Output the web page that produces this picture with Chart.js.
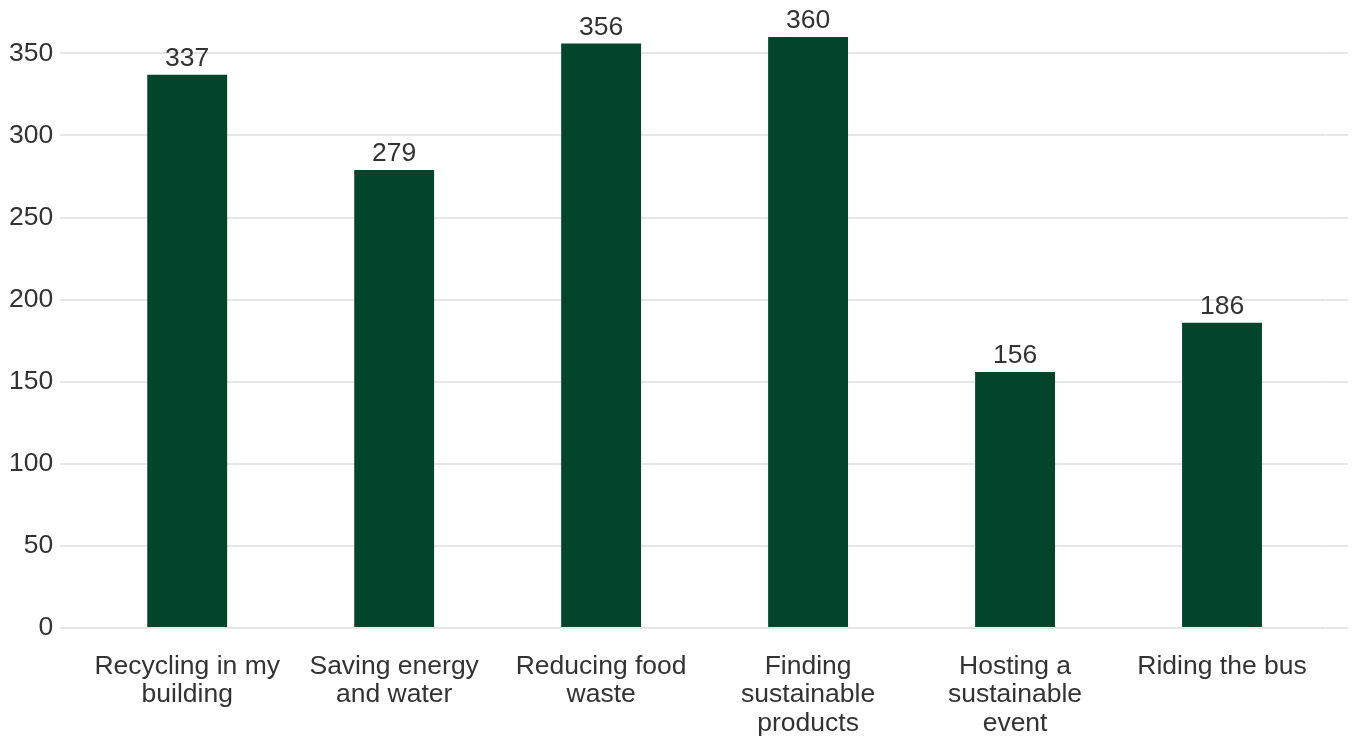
<!DOCTYPE html>
<html>
<head>
<meta charset="utf-8">
<script src="https://cdn.jsdelivr.net/npm/chart.js@4"></script>
<style>
  html, body { margin: 0; padding: 0; background: #fff; }
  #wrap { width: 1355px; height: 740px; }
</style>
</head>
<body>
<div id="wrap"><canvas id="chart"></canvas></div>
<script>
const categories = [
  ['Recycling in my', 'building'],
  ['Saving energy', 'and water'],
  ['Reducing food', 'waste'],
  ['Finding', 'sustainable', 'products'],
  ['Hosting a', 'sustainable', 'event'],
  ['Riding the bus']
];
const counts = [337, 279, 356, 360, 156, 186];
const yTicks = [0, 50, 100, 150, 200, 250, 300, 350];

const barColor = '#03452a';
const textColor = '#333333';
const gridColor = '#e6e6e6';
const fontFamily = '"Liberation Sans", Arial, sans-serif';

// value labels above each bar
const valueLabels = {
  id: 'valueLabels',
  afterDatasetsDraw(chart) {
    const ctx = chart.ctx;
    const meta = chart.getDatasetMeta(0);
    ctx.save();
    ctx.fillStyle = textColor;
    ctx.font = '26.5px ' + fontFamily;
    ctx.textAlign = 'center';
    ctx.textBaseline = 'alphabetic';
    meta.data.forEach((bar, i) => {
      ctx.fillText(String(counts[i]), bar.x, bar.y - 9);
    });
    ctx.restore();
  }
};

new Chart(document.getElementById('chart'), {
  type: 'bar',
  data: {
    labels: categories,
    datasets: [{
      data: counts,
      backgroundColor: barColor,
      categoryPercentage: 1,
      barPercentage: 0.386
    }]
  },
  options: {
    responsive: true,
    maintainAspectRatio: false,
    animation: false,
    layout: { padding: { left: 2, right: 7, top: 37, bottom: 2 } },
    plugins: {
      legend: { display: false },
      tooltip: { enabled: false }
    },
    scales: {
      x: {
        grid: { display: false, drawTicks: false },
        border: { display: false },
        afterFit: (scale) => { scale.height = 110; },
        ticks: {
          color: textColor,
          font: { family: fontFamily, size: 26.5, lineHeight: 1.08 },
          padding: 24,
          maxRotation: 0,
          autoSkip: false
        }
      },
      y: {
        min: 0,
        max: 360,
        afterBuildTicks: (scale) => {
          scale.ticks = yTicks.map(v => ({ value: v }));
        },
        grid: { color: gridColor, lineWidth: 2, tickLength: 23.5, tickColor: gridColor },
        border: { display: false },
        ticks: {
          color: textColor,
          font: { family: fontFamily, size: 26.5 },
          padding: 7
        }
      },
      y2: {
        position: 'right',
        min: 0,
        max: 360,
        afterBuildTicks: (scale) => {
          scale.ticks = yTicks.map(v => ({ value: v }));
        },
        grid: { display: true, drawOnChartArea: false, tickLength: 22.5, tickColor: gridColor, lineWidth: 2 },
        border: { display: false },
        ticks: { display: false }
      }
    }
  },
  plugins: [valueLabels]
});
</script>
</body>
</html>
